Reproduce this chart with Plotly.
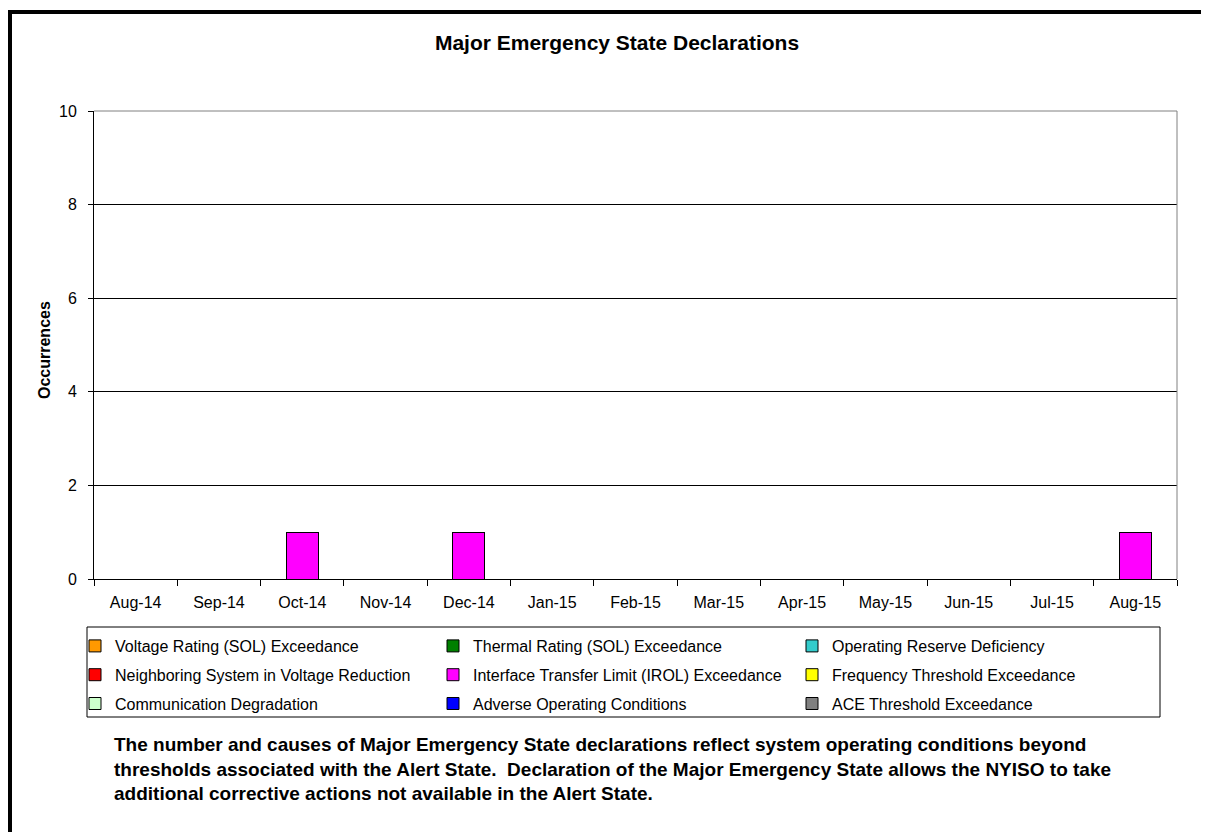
import plotly.graph_objects as go

months = ["Aug-14", "Sep-14", "Oct-14", "Nov-14", "Dec-14", "Jan-15", "Feb-15",
          "Mar-15", "Apr-15", "May-15", "Jun-15", "Jul-15", "Aug-15"]

voltage_rating = [0, 0, 0, 0, 0, 0, 0, 0, 0, 0, 0, 0, 0]
thermal_rating = [0, 0, 0, 0, 0, 0, 0, 0, 0, 0, 0, 0, 0]
operating_reserve = [0, 0, 0, 0, 0, 0, 0, 0, 0, 0, 0, 0, 0]
neighboring_system = [0, 0, 0, 0, 0, 0, 0, 0, 0, 0, 0, 0, 0]
interface_transfer = [0, 0, 1, 0, 1, 0, 0, 0, 0, 0, 0, 0, 1]
frequency_threshold = [0, 0, 0, 0, 0, 0, 0, 0, 0, 0, 0, 0, 0]
communication_degradation = [0, 0, 0, 0, 0, 0, 0, 0, 0, 0, 0, 0, 0]
adverse_conditions = [0, 0, 0, 0, 0, 0, 0, 0, 0, 0, 0, 0, 0]
ace_threshold = [0, 0, 0, 0, 0, 0, 0, 0, 0, 0, 0, 0, 0]

series = [
    ("Voltage Rating (SOL) Exceedance", voltage_rating, "#FF9900", "legend"),
    ("Neighboring System in Voltage Reduction", neighboring_system, "#FF0000", "legend"),
    ("Communication Degradation", communication_degradation, "#CCFFCC", "legend"),
    ("Thermal Rating (SOL) Exceedance", thermal_rating, "#008000", "legend2"),
    ("Interface Transfer Limit (IROL) Exceedance", interface_transfer, "#FF00FF", "legend2"),
    ("Adverse Operating Conditions", adverse_conditions, "#0000FF", "legend2"),
    ("Operating Reserve Deficiency", operating_reserve, "#33CCCC", "legend3"),
    ("Frequency Threshold Exceedance", frequency_threshold, "#FFFF00", "legend3"),
    ("ACE Threshold Exceedance", ace_threshold, "#808080", "legend3"),
]

OFF = 8  # page body margin
W, H = 1209 - OFF, 832 - OFF
# plot area in page coordinates
L, R, T, B = 94, 1177, 111, 579
pw, ph = R - L, B - T


def px(x):
    return (x - L) / pw


def py(y):
    return (B - y) / ph


FONT = "Arial, Liberation Sans, sans-serif"

fig = go.Figure()
for name, vals, color, leg in series:
    fig.add_trace(go.Bar(
        x=months, y=vals, name=name, legend=leg, legendgroup=name,
        marker=dict(color=color, line=dict(color="black", width=1)),
        width=0.385,
    ))

legend_common = dict(
    font=dict(family=FONT, size=16, color="black"),
    bgcolor="rgba(0,0,0,0)", borderwidth=0,
    orientation="v", tracegroupgap=5,
    xanchor="left", yanchor="top", traceorder="grouped",
)

fig.update_layout(
    width=W, height=H,
    margin=dict(l=L - OFF, r=W - (R - OFF), t=T - OFF, b=H - (B - OFF)),
    paper_bgcolor="white", plot_bgcolor="white",
    barmode="stack",
    font=dict(family=FONT, size=16, color="black"),
    title=dict(text="<b>Major Emergency State Declarations</b>",
               x=px(617), xref="paper", xanchor="center",
               y=1 - (43 - OFF) / H, yanchor="middle",
               font=dict(family=FONT, size=21, color="black")),
    legend=dict(**legend_common, x=px(75), y=py(629)),
    legend2=dict(**legend_common, x=px(433), y=py(629)),
    legend3=dict(**legend_common, x=px(792), y=py(629)),
    xaxis=dict(
        type="category", showline=True, linecolor="black", linewidth=1,
        ticks="outside", tickson="boundaries", ticklen=6, tickcolor="black",
        showgrid=False, ticklabelstandoff=9,
        tickfont=dict(family=FONT, size=16, color="black"),
    ),
    yaxis=dict(
        range=[0, 10], tickvals=[0, 2, 4, 6, 8, 10], showline=True,
        linecolor="black", linewidth=1, ticks="outside", ticklen=5,
        tickcolor="black", showgrid=True, gridcolor="black", gridwidth=1,
        zeroline=False, ticklabelstandoff=8,
        tickfont=dict(family=FONT, size=16, color="black"),
    ),
    showlegend=True,
)

shapes = [
    dict(type="line", xref="paper", yref="paper", x0=0, x1=1, y0=1, y1=1,
         line=dict(color="#808080", width=1), layer="above"),
    dict(type="line", xref="paper", yref="paper", x0=1, x1=1, y0=0, y1=1,
         line=dict(color="#808080", width=1), layer="above"),
    dict(type="rect", xref="paper", yref="paper", x0=px(87), x1=px(1160),
         y0=py(717), y1=py(627), line=dict(color="black", width=1)),
    dict(type="rect", xref="paper", yref="paper", x0=px(10), x1=px(1240),
         y0=py(870), y1=py(12), line=dict(color="black", width=4)),
]
fig.update_layout(shapes=shapes)

fig.add_annotation(
    text="<b>Occurrences</b>", textangle=-90, xref="paper", yref="paper",
    x=px(44), y=py(350), showarrow=False, xanchor="center", yanchor="middle",
    font=dict(family=FONT, size=16, color="black"),
)

fig.add_annotation(
    text=("<b>The number and causes of Major Emergency State declarations reflect system operating conditions beyond<br>"
          "thresholds associated with the Alert State.  Declaration of the Major Emergency State allows the NYISO to take<br>"
          "additional corrective actions not available in the Alert State.</b>"),
    xref="paper", yref="paper", x=px(112), y=py(732), showarrow=False,
    xanchor="left", yanchor="top", align="left",
    font=dict(family=FONT, size=19, color="black"),
)

fig.write_html("out.html")
